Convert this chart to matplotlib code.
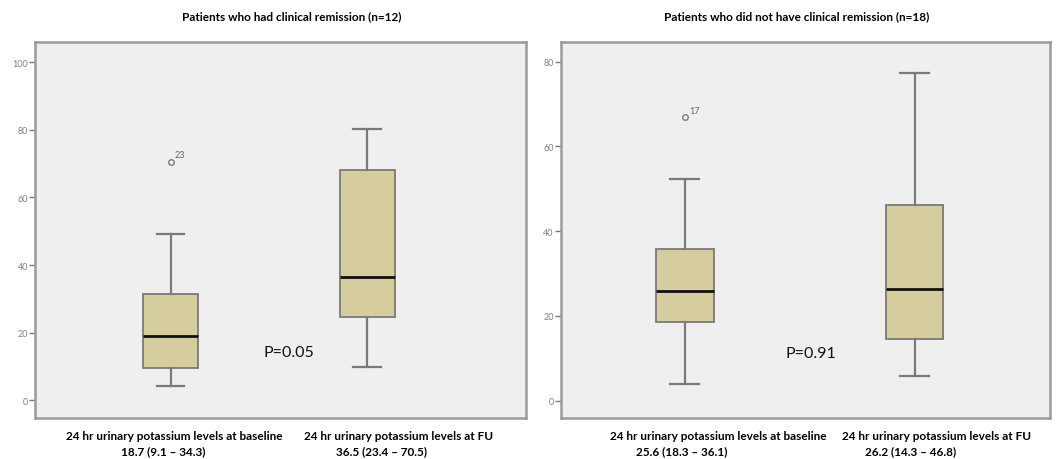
import matplotlib
matplotlib.use("Agg")
import matplotlib.pyplot as plt

plt.rcParams['font.family'] = ['Lato', 'DejaVu Sans']

# --- values ---
titles = ["Patients who had clinical remission (n=12)",
          "Patients who did not have clinical remission (n=18)"]
groups = ["24 hr urinary potassium levels at baseline",
          "24 hr urinary potassium levels at FU"]
summaries = [["18.7 (9.1 \u2013 34.3)", "36.5 (23.4 \u2013 70.5)"],
             ["25.6 (18.3 \u2013 36.1)", "26.2 (14.3 \u2013 46.8)"]]
p_values = ["P=0.05", "P=0.91"]

# left panel (remission)
rem_whislo = [4.4, 9.9]
rem_q1 = [9.5, 24.7]
rem_med = [19.0, 36.5]
rem_q3 = [31.5, 68.2]
rem_whishi = [49.2, 80.3]
rem_outliers = [[70.6], []]
rem_outlier_ids = [["23"], []]

# right panel (no remission)
nor_whislo = [3.9, 5.8]
nor_q1 = [18.6, 14.6]
nor_med = [25.9, 26.4]
nor_q3 = [35.8, 46.2]
nor_whishi = [52.3, 77.3]
nor_outliers = [[67.0], []]
nor_outlier_ids = [["17"], []]

panels = [
    dict(lo=rem_whislo, q1=rem_q1, med=rem_med, q3=rem_q3, hi=rem_whishi,
         fl=rem_outliers, ids=rem_outlier_ids, ticks=[0, 20, 40, 60, 80, 100],
         ylim=(-5.2, 106), xlim=(0.31, 2.81), width=0.28,
         rect=[0.033, 0.089, 0.4625, 0.818], ptxt=(1.6, 14.2)),
    dict(lo=nor_whislo, q1=nor_q1, med=nor_med, q3=nor_q3, hi=nor_whishi,
         fl=nor_outliers, ids=nor_outlier_ids, ticks=[0, 20, 40, 60, 80],
         ylim=(-4.1, 84.7), xlim=(0.46, 2.59), width=0.25,
         rect=[0.528, 0.089, 0.461, 0.818], ptxt=(1.55, 11.2)),
]

fig = plt.figure(figsize=(10.62, 4.6), dpi=100)

box_fill = '#d5cd9e'
line_col = '#7a7a7a'

for k, p in enumerate(panels):
    ax = fig.add_axes(p['rect'])
    ax.set_facecolor('#efefef')
    stats = []
    for i in range(2):
        stats.append(dict(med=p['med'][i], q1=p['q1'][i], q3=p['q3'][i],
                          whislo=p['lo'][i], whishi=p['hi'][i], fliers=p['fl'][i]))
    ax.bxp(stats, positions=[1, 2], widths=p['width'], patch_artist=True,
           boxprops=dict(facecolor=box_fill, edgecolor=line_col, linewidth=1.3),
           medianprops=dict(color='#111111', linewidth=2),
           whiskerprops=dict(color=line_col, linewidth=1.6),
           capprops=dict(color=line_col, linewidth=1.6),
           capwidths=p['width'] * 0.5,
           flierprops=dict(marker='o', markersize=4, markerfacecolor='none',
                           markeredgecolor=line_col, markeredgewidth=1))
    for i in range(2):
        for v, lab in zip(p['fl'][i], p['ids'][i]):
            ax.annotate(lab, (i + 1, v), xytext=(3, 3), textcoords='offset points',
                        fontsize=6.5, color='#666666')
    ax.set_xlim(p['xlim'])
    ax.set_ylim(p['ylim'])
    ax.set_yticks(p['ticks'])
    ax.set_xticks([])
    ax.tick_params(axis='y', direction='out', length=4, width=1, colors=line_col,
                   labelsize=6.5, labelcolor='#808080', pad=1)
    for s in ax.spines.values():
        s.set_color('#9a9a9a')
        s.set_linewidth(1.8)
    # p-value in the middle of the panel
    ax.text(p['ptxt'][0], p['ptxt'][1], p_values[k],
            fontsize=11.5, color='#111111', ha='center', va='center')

# titles
title_x = [292, 797]
for k in range(2):
    fig.text(title_x[k] / 1062, 0.963, titles[k],
             fontsize=8.5, fontweight='bold', ha='center', va='center')

# x labels under each box
label_x = [[174, 399], [718, 937]]
sum_x = [[163, 382], [682, 911]]
for k in range(2):
    for i in range(2):
        fig.text(label_x[k][i] / 1062, 1 - 437 / 460, groups[i], fontsize=8.5,
                 fontweight='bold', ha='center', va='center')
        fig.text(sum_x[k][i] / 1062, 1 - 452 / 460, summaries[k][i], fontsize=8.5,
                 fontweight='bold', ha='center', va='center')

fig.savefig('out.png', dpi=100, facecolor='white')
